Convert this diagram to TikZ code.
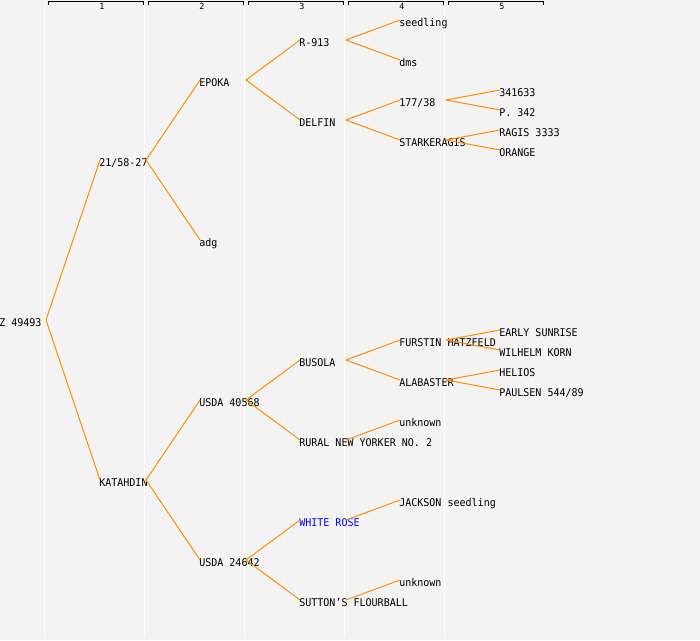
\documentclass[tikz,border=0pt]{standalone}
\usepackage{fontspec}
\newfontfamily\lblfont[FakeStretch=0.94]{DejaVu Sans Mono}
\newfontfamily\hdrfont{DejaVu Sans Mono}
\definecolor{bgc}{HTML}{F3F3F3}
\definecolor{edgec}{HTML}{FF8C00}
\definecolor{bluec}{HTML}{0000FF}
\tikzset{
  lbl/.style={anchor=base west, inner sep=0pt, font=\lblfont\fontsize{8pt}{9pt}\selectfont, text=black},
  hdr/.style={anchor=base, inner sep=0pt, font=\hdrfont\fontsize{6.3pt}{7pt}\selectfont},
  edge/.style={draw=edgec, line width=0.75pt},
  sep/.style={draw=white, line width=0.9pt},
  brk/.style={draw=black, line width=0.75pt}
}
\newcommand\lab[5][]{%
  \coordinate (#2-i) at ({100*#3},#4);
  \coordinate (#2-o) at ({100*#3+46},#4);
  \node[lbl,#1] (#2) at ({100*#3-1},{#4+6}) {#5};}
\newcommand\hdrcol[1]{%
  \draw[brk] ({100*#1-52},4.5) -- ({100*#1-52},1.5) -- ({100*#1+43},1.5) -- ({100*#1+43},4.5);
  \node[hdr] (h#1) at ({100*#1+2},9) {#1};}
\begin{document}
\begin{tikzpicture}[x=0.75pt,y=-0.75pt]
\fill[bgc] (0,0) rectangle (700,640);
\useasboundingbox (0,0) rectangle (700,640);
\foreach \c in {0,...,4} {\draw[sep] ({100*\c+44.5},2) -- ({100*\c+44.5},638);}
\hdrcol{1}\hdrcol{2}\hdrcol{3}\hdrcol{4}\hdrcol{5}
% labels
\lab{z}{0}{320}{Z 49493}
\lab{a}{1}{160}{21/58-27}
\lab{epoka}{2}{80}{EPOKA}
\lab{r913}{3}{40}{R-913}
\lab{seed}{4}{20}{seedling}
\lab{dms}{4}{60}{dms}
\lab{delfin}{3}{120}{DELFIN}
\lab{s177}{4}{100}{177/38}
\lab{n341}{5}{90}{341633}
\lab{p342}{5}{110}{P. 342}
\lab{stark}{4}{140}{STARKERAGIS}
\lab{ragis}{5}{130}{RAGIS 3333}
\lab{orange}{5}{150}{ORANGE}
\lab{adg}{2}{240}{adg}
\lab{kat}{1}{480}{KATAHDIN}
\lab{u405}{2}{400}{USDA 40568}
\lab{busola}{3}{360}{BUSOLA}
\lab{furstin}{4}{340}{FURSTIN HATZFELD}
\lab{early}{5}{330}{EARLY SUNRISE}
\lab{wilhelm}{5}{350}{WILHELM KORN}
\lab{alab}{4}{380}{ALABASTER}
\lab{helios}{5}{370}{HELIOS}
\lab{paulsen}{5}{390}{PAULSEN 544/89}
\lab{rural}{3}{440}{RURAL NEW YORKER NO. 2}
\lab{unk1}{4}{420}{unknown}
\lab{u246}{2}{560}{USDA 24642}
\lab[text=bluec]{white}{3}{520}{WHITE ROSE}
\lab{jackson}{4}{500}{JACKSON seedling}
\lab{sutton}{3}{600}{SUTTON’S FLOURBALL}
\lab{unk2}{4}{580}{unknown}
% connectors
\foreach \p/\c in {z/a,z/kat,a/epoka,a/adg,epoka/r913,epoka/delfin,r913/seed,r913/dms,
  delfin/s177,delfin/stark,s177/n341,s177/p342,stark/ragis,stark/orange,
  kat/u405,kat/u246,u405/busola,u405/rural,busola/furstin,busola/alab,
  furstin/early,furstin/wilhelm,alab/helios,alab/paulsen,rural/unk1,
  u246/white,u246/sutton,white/jackson,sutton/unk2}
  {\draw[edge] (\p-o) -- (\c-i);}
\end{tikzpicture}
\end{document}
